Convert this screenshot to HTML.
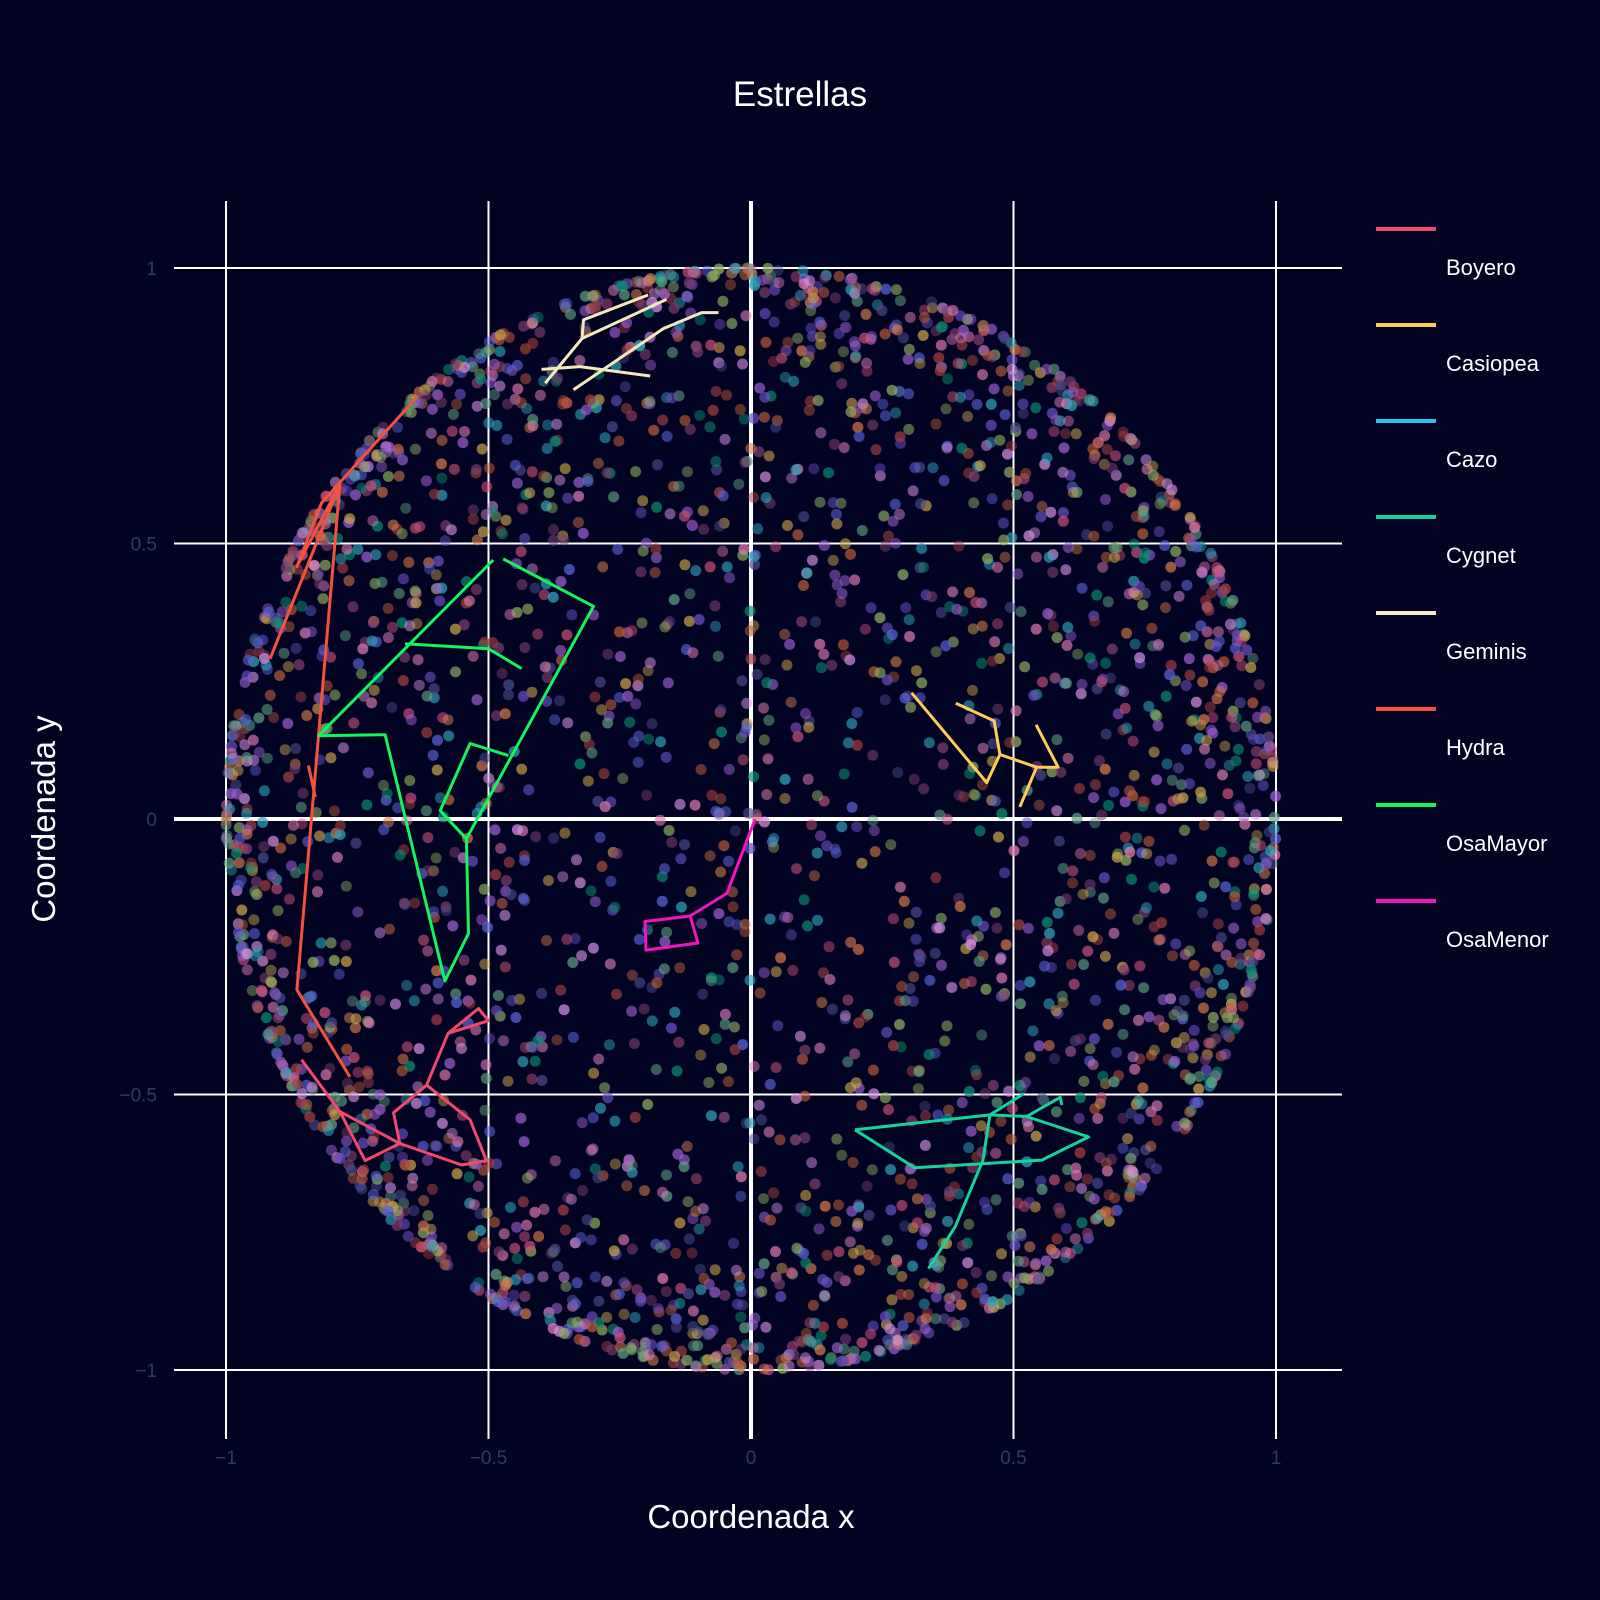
<!DOCTYPE html>
<html><head><meta charset="utf-8">
<style>
html,body{margin:0;padding:0;background:#020322;}
svg{display:block;font-family:"Liberation Sans","DejaVu Sans",sans-serif;}
</style></head>
<body>
<svg id="chart" width="1600" height="1600" viewBox="0 0 1600 1600" xmlns="http://www.w3.org/2000/svg">
<rect x="0" y="0" width="1600" height="1600" fill="#020322"/>
<text x="800" y="106" text-anchor="middle" fill="#ffffff" font-size="35">Estrellas</text>
<g id="grid"></g>
<g id="stars"></g>
<g id="lines"></g>
<g id="ticks"></g>
<text x="751" y="1528" text-anchor="middle" fill="#ffffff" font-size="33">Coordenada x</text>
<text x="0" y="0" transform="translate(55,819) rotate(-90)" text-anchor="middle" fill="#ffffff" font-size="33">Coordenada y</text>
<g id="legend"></g>
</svg>
<script>
const xTicks = [-1, -0.5, 0, 0.5, 1];
const yTicks = [-1, -0.5, 0, 0.5, 1];
const tickLabels = ["\u22121", "\u22120.5", "0", "0.5", "1"];
const names = ["Boyero","Casiopea","Cazo","Cygnet","Geminis","Hydra","OsaMayor","OsaMenor"];
const colors = ["#ef4a6e","#ffcc5c","#2bc4e8","#14d39e","#f4e8bf","#f4523f","#12f55c","#f414c0"];
const boyeroX = [-0.856,-0.783,-0.735,-0.669,-0.681,-0.618,-0.577,-0.519,-0.500,-0.577,-0.618,-0.535,-0.504,-0.551,-0.669,-0.783];
const boyeroY = [-0.437,-0.531,-0.620,-0.589,-0.533,-0.483,-0.389,-0.344,-0.366,-0.389,-0.483,-0.546,-0.620,-0.628,-0.589,-0.531];
const casiopeaX = [0.306,0.449,0.474,0.463,0.390,null,0.474,0.544,0.585,0.543,null,0.544,0.512];
const casiopeaY = [0.229,0.066,0.117,0.178,0.210,null,0.117,0.094,0.094,0.171,null,0.094,0.022];
const cazoX = [];
const cazoY = [];
const cygnetX = [0.198,0.455,0.525,0.643,0.554,0.312,0.198,null,0.519,0.455,0.442,0.389,0.338,null,0.525,0.589,0.592];
const cygnetY = [-0.564,-0.537,-0.540,-0.577,-0.619,-0.633,-0.564,null,-0.499,-0.537,-0.619,-0.740,-0.816,null,-0.540,-0.505,-0.519];
const geminisX = [-0.196,-0.319,-0.322,-0.392,null,-0.161,-0.322,null,-0.338,-0.167,-0.094,-0.062,null,-0.399,-0.326,-0.192];
const geminisY = [0.951,0.906,0.872,0.791,null,0.943,0.872,null,0.779,0.890,0.919,0.919,null,0.816,0.821,0.804];
const hydraX = [-0.764,-0.865,-0.783,-0.916,null,-0.637,-0.818,-0.865,-0.783,null,-0.843,-0.830];
const hydraY = [-0.468,-0.310,0.607,0.291,null,0.765,0.574,0.458,0.607,null,0.097,0.040];
const osaMayorX = [-0.437,-0.500,-0.659,null,-0.491,-0.824,-0.697,-0.583,-0.538,-0.542,-0.300,-0.472,null,-0.542,-0.592,-0.535,-0.462];
const osaMayorY = [0.273,0.309,0.318,null,0.470,0.151,0.153,-0.294,-0.208,-0.036,0.386,0.472,null,-0.036,0.015,0.137,0.115];
const osaMenorX = [0.008,-0.005,-0.046,-0.116,-0.202,-0.200,-0.101,-0.116];
const osaMenorY = [0.0,-0.032,-0.135,-0.176,-0.186,-0.238,-0.225,-0.176];

const NS = "http://www.w3.org/2000/svg";
const X0 = 751, XS = 525, Y0 = 819, YS = 551;
function sx(v){ return X0 + v*XS; }
function sy(v){ return Y0 - v*YS; }
function mk(tag, attrs, parent){ const e=document.createElementNS(NS,tag); for(const k in attrs) e.setAttribute(k,attrs[k]); parent.appendChild(e); return e; }

const grid = document.getElementById('grid');
xTicks.forEach((t,i)=>{
  const l = mk('line',{x1:sx(t),x2:sx(t),y1:201,y2:1439,stroke:'#ffffff','stroke-width':t===0?4:2},grid);
  
  
});
yTicks.forEach((t,i)=>{
  const l = mk('line',{x1:174,x2:1342,y1:sy(t),y2:sy(t),stroke:'#ffffff','stroke-width':t===0?4:2},grid);
  
  
});

// background star field (decorative, seeded)
let seed = 12345;
function rnd(){ seed = (seed*1664525 + 1013904223) >>> 0; return seed/4294967296; }
const starPalette = ["#c9507a","#9b5fd0","#6a4fc4","#5b63d8","#2fa3b8","#0a8f72","#d67a4a","#c9a24a","#8fb060","#e07bb0","#b85a3a","#7e3f6e","#4a4a8a","#d58fe0","#a44040","#5fa080"];
const starsG = document.getElementById('stars');
for(let i=0;i<3000;i++){
  const c = rnd();
  const r = Math.sqrt(1 - c*c);
  const a = rnd()*Math.PI*2;
  const s = mk('circle',{cx:(sx(r*Math.cos(a))).toFixed(1),cy:(sy(r*Math.sin(a))).toFixed(1),r:5.5,fill:starPalette[Math.floor(rnd()*starPalette.length)],'fill-opacity':(0.45+rnd()*0.3).toFixed(2)},starsG);
  
  
}

const series = [[boyeroX,boyeroY],[casiopeaX,casiopeaY],[cazoX,cazoY],[cygnetX,cygnetY],[geminisX,geminisY],[hydraX,hydraY],[osaMayorX,osaMayorY],[osaMenorX,osaMenorY]];
const linesG = document.getElementById('lines');
series.forEach((s,k)=>{
  let d = ''; let pen = false;
  for(let i=0;i<s[0].length;i++){
    if(s[0][i]===null){ pen=false; continue; }
    d += (pen?'L':'M') + sx(s[0][i]).toFixed(1) + ' ' + sy(s[1][i]).toFixed(1) + ' ';
    pen = true;
  }
  if(!d) return;
  const p = mk('path',{d:d,fill:'none',stroke:colors[k],'stroke-width':3,'stroke-linejoin':'round'},linesG);
  
  
});

const ticksG = document.getElementById('ticks');
xTicks.forEach((t,i)=>{
  const e = mk('text',{x:sx(t),y:1464,'text-anchor':'middle',fill:'#2a3f5f','font-size':19},ticksG);
  e.textContent = tickLabels[i];
  
  
});
yTicks.forEach((t,i)=>{
  const e = mk('text',{x:157,y:sy(t)+7,'text-anchor':'end',fill:'#2a3f5f','font-size':19},ticksG);
  e.textContent = tickLabels[i];
  
  
});

const legG = document.getElementById('legend');
names.forEach((n,k)=>{
  const y = 229 + k*96;
  const l = mk('line',{x1:1376,x2:1436,y1:y,y2:y,stroke:colors[k],'stroke-width':4},legG);
  
  
  const t = mk('text',{x:1446,y:y+46,fill:'#ffffff','font-size':22},legG);
  t.textContent = n;
  
  
});
</script>
</body></html>
